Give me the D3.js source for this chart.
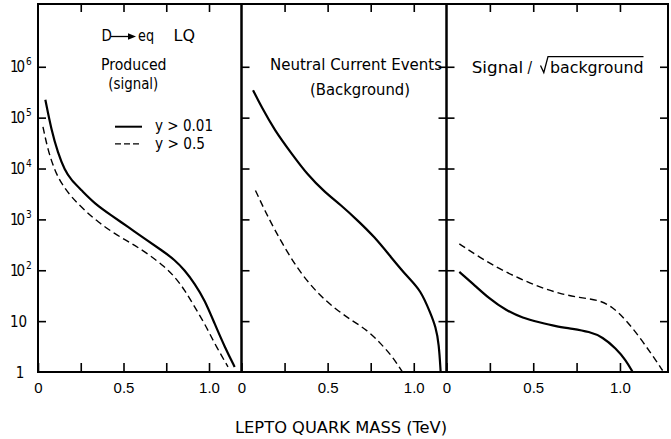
<!DOCTYPE html>
<html>
<head>
<meta charset="utf-8">
<script src="https://cdn.jsdelivr.net/npm/d3@7"></script>
<style>
  body { margin: 0; background: #fff; }
  svg { display: block; font-family: "Liberation Sans Narrow", "DejaVu Sans Condensed", sans-serif; }
</style>
</head>
<body>
<div id="chart"></div>
<script>
// Data (mass in TeV, event counts / ratio)
const yTicks = [1, 10, 1e2, 1e3, 1e4, 1e5, 1e6];
const xTicks = [0, 0.25, 0.5, 0.75, 1.0];
const xTickLabels = ["0", "", "0.5", "", "1.0"];

// Panel 1: D -> eq LQ produced (signal)
const sigMassSolid = [0.043, 0.078, 0.117, 0.156, 0.195, 0.253, 0.331, 0.429, 0.526, 0.624, 0.721, 0.80, 0.858, 0.916, 0.975, 1.033, 1.092, 1.150];
const sigSolid = [224000, 57500, 20000, 9300, 5900, 3800, 2040, 1200, 710, 420, 250, 160, 100, 55, 26, 8.9, 3.1, 1.26];
const sigMassDashed = [0.029, 0.058, 0.097, 0.136, 0.195, 0.273, 0.351, 0.448, 0.546, 0.643, 0.741, 0.80, 0.858, 0.916, 0.975, 1.033, 1.111];
const sigDashed = [66000, 23000, 9300, 5100, 2750, 1500, 890, 520, 340, 210, 117, 74, 41, 19, 8.9, 3.6, 1.26];

// Panel 2: neutral current events (background)
const bgMassSolid = [0.067, 0.116, 0.193, 0.289, 0.385, 0.482, 0.578, 0.674, 0.771, 0.867, 0.963, 1.040, 1.098, 1.127, 1.146, 1.156];
const bgSolid = [347000, 162000, 56000, 20000, 7400, 3470, 1900, 955, 457, 182, 74, 41, 14, 7.8, 3.6, 1.0];
const bgMassDashed = [0.081, 0.135, 0.193, 0.270, 0.347, 0.443, 0.539, 0.636, 0.732, 0.809, 0.877, 0.934];
const bgDashed = [3700, 1500, 620, 214, 85, 35, 18, 10.5, 6.6, 3.6, 2.0, 1.0];

// Panel 3: signal / sqrt(background)
const ratioMassSolid = [0.074, 0.151, 0.247, 0.344, 0.44, 0.535, 0.631, 0.727, 0.823, 0.9, 0.977, 1.035, 1.073];
const ratioSolid = [93, 55, 27.5, 16.2, 11.5, 9.5, 7.9, 7.1, 6.2, 4.9, 2.9, 1.7, 1.0];
const ratioMassDashed = [0.074, 0.189, 0.304, 0.42, 0.535, 0.65, 0.766, 0.881, 0.958, 1.035, 1.112, 1.188, 1.246];
const ratioDashed = [330, 182, 107, 69, 47, 35, 29, 26, 19, 10.5, 4.9, 2.1, 1.07];

// Layout
const W = 671, H = 439;
const yTop = 4, yBottom = 372;
const edges = [38, 241.5, 446.5, 668];
const xMax = [1.19, 1.19, 1.277];
const fs = 15;

const svg = d3.select("#chart").append("svg")
  .attr("width", W).attr("height", H);

const y = d3.scaleLog().domain([1, Math.pow(10, 7.234)]).range([yBottom, yTop]);

const line = (xs) => d3.line()
  .x((d) => xs(d[0]))
  .y((d) => y(d[1]))
  .curve(d3.curveBasis);

const zip = (a, b) => a.map((m, i) => [m, b[i]]);

const panels = [
  { solid: zip(sigMassSolid, sigSolid), dashed: zip(sigMassDashed, sigDashed) },
  { solid: zip(bgMassSolid, bgSolid), dashed: zip(bgMassDashed, bgDashed) },
  { solid: zip(ratioMassSolid, ratioSolid), dashed: zip(ratioMassDashed, ratioDashed) }
];

const defs = svg.append("defs");

panels.forEach((p, i) => {
  const x0 = edges[i], x1 = edges[i + 1];
  const x = d3.scaleLinear().domain([0, xMax[i]]).range([x0, x1]);
  const g = svg.append("g");

  defs.append("clipPath").attr("id", "clip" + i)
    .append("rect").attr("x", x0).attr("y", yTop).attr("width", x1 - x0).attr("height", yBottom - yTop);

  // bottom ticks + labels
  const bx = g.append("g").attr("transform", `translate(0,${yBottom})`)
    .call(d3.axisBottom(x).tickValues(xTicks).tickSizeInner(-9).tickSizeOuter(0)
      .tickPadding(10).tickFormat((d, k) => xTickLabels[k]));
  bx.select(".domain").remove();
  bx.selectAll("line").attr("stroke-width", 1.6);
  bx.selectAll("text").attr("font-size", fs).attr("fill", "#000");

  // top ticks
  const tx = g.append("g").attr("transform", `translate(0,${yTop})`)
    .call(d3.axisTop(x).tickValues(xTicks.slice(1)).tickSizeInner(-8).tickSizeOuter(0).tickFormat(""));
  tx.select(".domain").remove();
  tx.selectAll("line").attr("stroke-width", 1.6);

  // left ticks
  const ly = g.append("g").attr("transform", `translate(${x0},0)`)
    .call(d3.axisLeft(y).tickValues(yTicks.slice(1)).tickSizeInner(-8).tickSizeOuter(0).tickFormat(""));
  ly.select(".domain").remove();
  ly.selectAll("line").attr("stroke-width", 1.6);

  // right ticks (inner panels only)
  if (i > 0) {
    const ry = g.append("g").attr("transform", `translate(${x1},0)`)
      .call(d3.axisRight(y).tickValues(yTicks.slice(1)).tickSizeInner(-8).tickSizeOuter(0).tickFormat(""));
    ry.select(".domain").remove();
    ry.selectAll("line").attr("stroke-width", 1.6);
  }

  const curves = g.append("g").attr("clip-path", `url(#clip${i})`);
  curves.append("path").datum(p.solid)
    .attr("d", line(x)).attr("fill", "none").attr("stroke", "#000").attr("stroke-width", 2.2);
  curves.append("path").datum(p.dashed)
    .attr("d", line(x)).attr("fill", "none").attr("stroke", "#000").attr("stroke-width", 1.4)
    .attr("stroke-dasharray", "7,4");

  // frame
  g.append("rect").attr("x", x0).attr("y", yTop).attr("width", x1 - x0).attr("height", yBottom - yTop)
    .attr("fill", "none").attr("stroke", "#000").attr("stroke-width", 2);
});

// y tick labels on the left panel
const yl = svg.append("g").attr("font-size", fs).attr("fill", "#000");
yTicks.forEach((v) => {
  const n = Math.round(Math.log10(v));
  const yy = y(v) + 5.5;
  if (n === 0) {
    yl.append("text").attr("x", 20).attr("y", yy).attr("text-anchor", "middle").text("1");
  } else if (n === 1) {
    yl.append("text").attr("x", 10).attr("y", yy).attr("textLength", 17).text("10");
  } else {
    yl.append("text").attr("x", 10).attr("y", yy).attr("textLength", 15).text("10");
    yl.append("text").attr("x", 26).attr("y", yy - 7).attr("font-size", 10).text(n);
  }
});

// annotations
const txt = (x, yy, s, len) => {
  const t = svg.append("text").attr("x", x).attr("y", yy).attr("font-size", fs).attr("fill", "#000").text(s);
  if (len) t.attr("textLength", len).attr("lengthAdjust", "spacingAndGlyphs");
  return t;
};

txt(101.5, 40.5, "D");
svg.append("line").attr("x1", 111).attr("x2", 130).attr("y1", 36.5).attr("y2", 36.5)
  .attr("stroke", "#000").attr("stroke-width", 1.3);
svg.append("path").attr("d", "M128,33.2 L136,36.5 L128,39.8 Z").attr("fill", "#000");
txt(138, 40.5, "eq", 16);
txt(173.5, 40.5, "LQ", 21.5);
txt(101, 69.5, "Produced", 65.5);
txt(108.3, 88.5, "(signal)", 50);

svg.append("line").attr("x1", 115).attr("x2", 142).attr("y1", 126.7).attr("y2", 126.7)
  .attr("stroke", "#000").attr("stroke-width", 2);
svg.append("line").attr("x1", 115).attr("x2", 142).attr("y1", 143.8).attr("y2", 143.8)
  .attr("stroke", "#000").attr("stroke-width", 1.3).attr("stroke-dasharray", "6,3");
txt(155, 131, "y  >  0.01", 58);
txt(155, 148.5, "y  >  0.5", 50);

txt(270, 70, "Neutral Current Events", 172);
txt(310, 94.5, "(Background)", 100);

txt(471.7, 72.5, "Signal", 51.5);
txt(527.5, 72.5, "/");
svg.append("path").attr("d", "M540.5,65.5 L543.8,72.5 L548,56.7 L643.5,56.7")
  .attr("fill", "none").attr("stroke", "#000").attr("stroke-width", 1.3);
txt(550, 72.5, "background", 93.5);

txt(235, 433, "LEPTO  QUARK  MASS   (TeV)", 212);
</script>
</body>
</html>
